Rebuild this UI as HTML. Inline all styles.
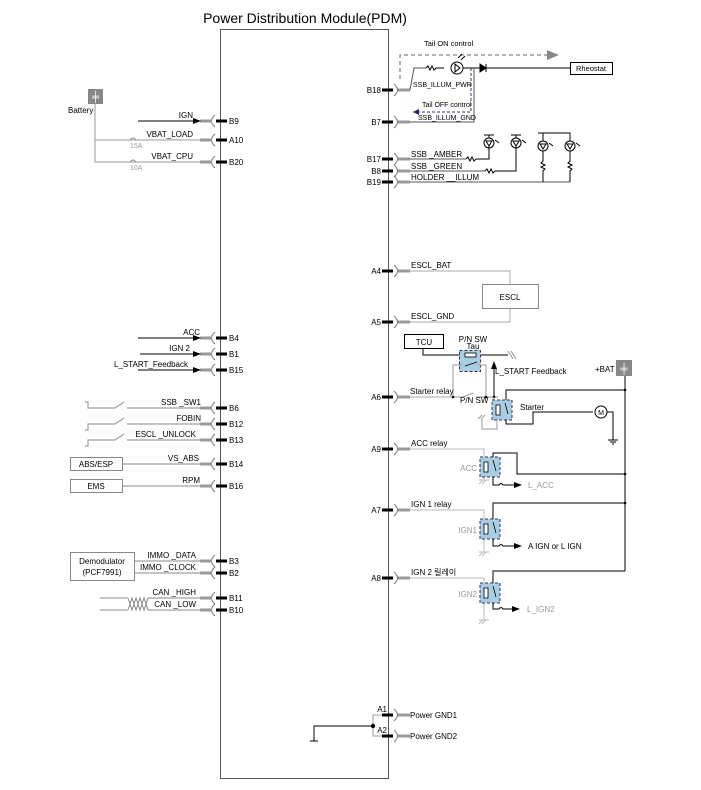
<!DOCTYPE html>
<html><head><meta charset="utf-8"><style>
body{margin:0;background:#fff;}
svg{display:block;font-family:"Liberation Sans",Arial,sans-serif;}
</style></head><body>
<svg width="701" height="790" viewBox="0 0 701 790" xmlns="http://www.w3.org/2000/svg">
<defs>
<marker id="ar" markerWidth="8" markerHeight="8" refX="7" refY="4" orient="auto" markerUnits="userSpaceOnUse"><path d="M0,1 L8,4 L0,7z" fill="#000"/></marker>
<marker id="arg" markerWidth="12" markerHeight="12" refX="11" refY="6" orient="auto" markerUnits="userSpaceOnUse"><path d="M0,1 L12,6 L0,11z" fill="#888"/></marker>
<g id="rp"><line x1="382" y1="0" x2="393" y2="0" stroke="#000" stroke-width="3"/><path d="M394,-6 q7,6 0,12" fill="none" stroke="#777" stroke-width="1"/><line x1="398" y1="0" x2="410" y2="0" stroke="#999" stroke-width="3"/></g>
<g id="lp"><line x1="216" y1="0" x2="227" y2="0" stroke="#000" stroke-width="3"/><path d="M215,-6 q-7,6 0,12" fill="none" stroke="#777" stroke-width="1"/><line x1="200" y1="0" x2="212" y2="0" stroke="#999" stroke-width="3"/></g>
<g id="relay"><rect x="0" y="0" width="20" height="20" fill="#a9cde3" stroke="#335" stroke-width="1" stroke-dasharray="3,2"/><rect x="4" y="5" width="4" height="10" fill="#fff" stroke="#000" stroke-width="0.8"/><line x1="13" y1="3" x2="16" y2="14" stroke="#000" stroke-width="0.8"/></g>
</defs>
<text x="305" y="23" font-size="14" text-anchor="middle">Power Distribution Module(PDM)</text>
<rect x="220.5" y="29.5" width="168" height="749" fill="none" stroke="#555" stroke-width="1"/>

<g font-size="8">
<use href="#lp" y="121"/><text x="229" y="124">B9</text>
<use href="#lp" y="140"/><text x="229" y="143">A10</text>
<use href="#lp" y="162"/><text x="229" y="165">B20</text>
<use href="#lp" y="338"/><text x="229" y="341">B4</text>
<use href="#lp" y="354"/><text x="229" y="357">B1</text>
<use href="#lp" y="370"/><text x="229" y="373">B15</text>
<use href="#lp" y="408"/><text x="229" y="411">B6</text>
<use href="#lp" y="424"/><text x="229" y="427">B12</text>
<use href="#lp" y="440"/><text x="229" y="443">B13</text>
<use href="#lp" y="464"/><text x="229" y="467">B14</text>
<use href="#lp" y="486"/><text x="229" y="489">B16</text>
<use href="#lp" y="561"/><text x="229" y="564">B3</text>
<use href="#lp" y="573"/><text x="229" y="576">B2</text>
<use href="#lp" y="598"/><text x="229" y="601">B11</text>
<use href="#lp" y="610"/><text x="229" y="613">B10</text>
<use href="#rp" y="90"/><text x="381" y="93" text-anchor="end">B18</text>
<use href="#rp" y="122"/><text x="381" y="125" text-anchor="end">B7</text>
<use href="#rp" y="159"/><text x="381" y="162" text-anchor="end">B17</text>
<use href="#rp" y="171"/><text x="381" y="174" text-anchor="end">B8</text>
<use href="#rp" y="182"/><text x="381" y="185" text-anchor="end">B19</text>
<use href="#rp" y="271"/><text x="381" y="274" text-anchor="end">A4</text>
<use href="#rp" y="322"/><text x="381" y="325" text-anchor="end">A5</text>
<use href="#rp" y="397"/><text x="381" y="400" text-anchor="end">A6</text>
<use href="#rp" y="449"/><text x="381" y="452" text-anchor="end">A9</text>
<use href="#rp" y="510"/><text x="381" y="513" text-anchor="end">A7</text>
<use href="#rp" y="578"/><text x="381" y="581" text-anchor="end">A8</text>
<use href="#rp" y="715"/><text x="387" y="712" text-anchor="end">A1</text>
<use href="#rp" y="736"/><text x="387" y="733" text-anchor="end">A2</text>
</g>

<g font-size="8" stroke-width="1">
<rect x="88" y="89" width="15" height="15" fill="#888"/>
<text x="95.5" y="100" font-size="10" fill="#fff" text-anchor="middle">╪</text>
<text x="68" y="113">Battery</text>
<polyline points="95,104 95,162 200,162" fill="none" stroke="#999"/>
<line x1="95" y1="140" x2="200" y2="140" stroke="#999"/>
<path d="M130,140 q3,-4 6,0 M130,162 q3,-4 6,0" fill="none" stroke="#999"/>
<text x="130" y="148" font-size="7" fill="#999">15A</text>
<text x="130" y="170" font-size="7" fill="#999">10A</text>
<line x1="138" y1="121" x2="200" y2="121" stroke="#000" marker-end="url(#ar)"/>
<text x="193" y="118" text-anchor="end">IGN</text>
<text x="193" y="137" text-anchor="end">VBAT_LOAD</text>
<text x="193" y="159" text-anchor="end">VBAT_CPU</text>

<line x1="138" y1="338" x2="200" y2="338" stroke="#000" marker-end="url(#ar)"/>
<text x="200" y="335" text-anchor="end">ACC</text>
<line x1="140" y1="354" x2="200" y2="354" stroke="#000" marker-end="url(#ar)"/>
<text x="190" y="351" text-anchor="end">IGN 2</text>
<line x1="138" y1="370" x2="200" y2="370" stroke="#000" marker-end="url(#ar)"/>
<text x="188" y="367" text-anchor="end">L_START_Feedback</text>

<g stroke="#888" fill="none">
<polyline points="85,402 88,402 88,408 115,408 124,402"/><line x1="127" y1="408" x2="200" y2="408"/>
<polyline points="85,430 88,430 88,424 115,424 124,418"/><line x1="127" y1="424" x2="200" y2="424"/>
<polyline points="85,446 88,446 88,440 115,440 124,434"/><line x1="127" y1="440" x2="200" y2="440"/>
<rect x="70.5" y="457.5" width="52" height="13"/><line x1="123" y1="464" x2="200" y2="464"/>
<rect x="70.5" y="479.5" width="52" height="13"/><line x1="123" y1="486" x2="200" y2="486"/>
<rect x="70.5" y="552.5" width="64" height="28"/>
<line x1="135" y1="561" x2="200" y2="561"/><line x1="135" y1="573" x2="200" y2="573"/>
<line x1="100" y1="598" x2="128" y2="598"/><line x1="100" y1="610" x2="128" y2="610"/>
<path d="M128,598 l4,12 l4,-12 l4,12 l4,-12 l4,12 M128,610 l4,-12 l4,12 l4,-12 l4,12 l4,-12"/>
<line x1="148" y1="598" x2="200" y2="598"/><line x1="148" y1="610" x2="200" y2="610"/>
</g>
<text x="201" y="405" text-anchor="end">SSB _SW1</text>
<text x="201" y="421" text-anchor="end">FOBIN</text>
<text x="196" y="437" text-anchor="end">ESCL _UNLOCK</text>
<text x="199" y="461" text-anchor="end">VS_ABS</text>
<text x="200" y="483" text-anchor="end">RPM</text>
<text x="96" y="467" text-anchor="middle">ABS/ESP</text>
<text x="96" y="489" text-anchor="middle">EMS</text>
<text x="102" y="564" text-anchor="middle">Demodulator</text>
<text x="102" y="575" text-anchor="middle">(PCF7991)</text>
<text x="196" y="558" text-anchor="end">IMMO _DATA</text>
<text x="196" y="570" text-anchor="end">IMMO _CLOCK</text>
<text x="196" y="595" text-anchor="end">CAN _HIGH</text>
<text x="196" y="607" text-anchor="end">CAN _LOW</text>
</g>

<g font-size="7.5" fill="none" stroke-width="1">
<polyline points="400,79 400,55 558,55" stroke="#666" stroke-dasharray="4,3" marker-end="url(#arg)"/>
<text x="424" y="46" fill="#000" stroke="none">Tail ON control</text>
<polyline points="410,90 414,68 426,68" stroke="#555"/>
<path d="M426,68 l2,-2 l2,4 l2,-4 l2,4 l2,-2 l8,0" stroke="#000"/>
<circle cx="457" cy="68" r="6" stroke="#000"/><path d="M455,64 l5,4 l-5,4z" stroke="#000"/>
<path d="M458,58 l4,-4 M461,60 l4,-4" stroke="#000"/>
<line x1="463" y1="68" x2="480" y2="68" stroke="#000"/>
<path d="M480,64 l6,4 l-6,4z M486,64 v8" stroke="#000" fill="#000"/>
<line x1="486" y1="68" x2="570" y2="68" stroke="#000"/>
<rect x="570.5" y="62.5" width="42" height="12" stroke="#000"/>
<text x="591" y="71" text-anchor="middle" fill="#000" stroke="none">Rheostat</text>
<polyline points="474,68 474,122 410,122" stroke="#555"/>
<polyline points="471,68 471,112 413,112" stroke="#336" stroke-dasharray="3,2"/>
<path d="M413,112 l6,-3 v6z" fill="#226" stroke="none"/>
<text x="413" y="87" fill="#000" stroke="none" font-size="7">SSB_ILLUM_PWR</text>
<text x="422" y="107" fill="#000" stroke="none" font-size="7">Tail OFF control</text>
<text x="418" y="120" fill="#000" stroke="none" font-size="7">SSB_ILLUM_GND</text>

<text x="411" y="157" fill="#000" stroke="none" font-size="8">SSB _AMBER</text>
<text x="411" y="169" fill="#000" stroke="none" font-size="8">SSB _GREEN</text>
<text x="411" y="180" fill="#000" stroke="none" font-size="8">HOLDER __ILLUM</text>
<line x1="410" y1="159" x2="466" y2="159" stroke="#555"/>
<path d="M466,159 l2,-2 l2,4 l2,-4 l2,4 l2,-2" stroke="#000"/><polyline points="476,159 489,159 489,145" stroke="#000"/>
<line x1="410" y1="171" x2="485" y2="171" stroke="#555"/>
<path d="M485,171 l2,-2 l2,4 l2,-4 l2,4 l2,-2" stroke="#000"/><polyline points="495,171 516,171 516,145" stroke="#000"/>
<line x1="410" y1="182" x2="570" y2="182" stroke="#555"/>
<g stroke="#000">
<circle cx="489" cy="143" r="5"/><path d="M486,141 h6 l-3,5z M484,135 h10"/><line x1="489" y1="135" x2="489" y2="138"/>
<circle cx="516" cy="143" r="5"/><path d="M513,141 h6 l-3,5z M511,135 h10"/><line x1="516" y1="135" x2="516" y2="138"/>
<circle cx="543" cy="146" r="5"/><path d="M540,144 h6 l-3,5z M538,133 h10"/>
<line x1="543" y1="133" x2="543" y2="141"/><polyline points="543,133 570,133 570,141"/>
<circle cx="570" cy="146" r="5"/><path d="M567,144 h6 l-3,5z"/>
<path d="M543,151 v10 l-2,2 l4,2 l-4,2 l4,2 l-2,2 v11 M570,151 v10 l-2,2 l4,2 l-4,2 l4,2 l-2,2 v11"/>
<path d="M495,140 l4,3 M522,140 l4,3 M549,143 l4,3 M576,143 l4,3"/>
</g>

<polyline points="410,271 510,271 510,284" stroke="#aaa"/>
<polyline points="410,322 510,322 510,309" stroke="#aaa"/>
<rect x="482.5" y="284.5" width="56" height="24" stroke="#888"/>
<text x="510" y="300" text-anchor="middle" fill="#000" stroke="none" font-size="8">ESCL</text>
<text x="411" y="268" fill="#000" stroke="none" font-size="8">ESCL_BAT</text>
<text x="411" y="319" fill="#000" stroke="none" font-size="8">ESCL_GND</text>

<rect x="404.5" y="334.5" width="39" height="14" stroke="#000"/>
<text x="424" y="345" text-anchor="middle" fill="#000" stroke="none" font-size="8">TCU</text>
<text x="473" y="342" text-anchor="middle" fill="#000" stroke="none" font-size="8">P/N SW</text>
<text x="473" y="349" text-anchor="middle" fill="#000" stroke="none" font-size="8">Tau</text>
<polyline points="423,349 423,355 508,355" stroke="#000"/>
<path d="M508,351 l5,8 M511,351 l5,8" stroke="#999"/>
<rect x="459.5" y="350.5" width="21" height="21" fill="#a9cde3" stroke="#335" stroke-dasharray="3,2"/>
<rect x="465" y="353" width="11" height="4" fill="#fff" stroke="#000" stroke-width="0.8"/>
<line x1="465" y1="366" x2="477" y2="362" stroke="#000" stroke-width="0.8"/>
<polyline points="462,365 453,365 453,397" stroke="#999"/>
<polyline points="478,365 486,365 486,397" stroke="#999"/>
<line x1="410" y1="397" x2="453" y2="397" stroke="#aaa"/>
<path d="M453,397 l10,0 l10,-4 M476,397 h22" stroke="#999"/>
<circle cx="453" cy="397" r="1.3" fill="#000"/><circle cx="486" cy="397" r="1.3" fill="#000"/><circle cx="494" cy="397" r="1.3" fill="#000"/>
<line x1="494" y1="397" x2="494" y2="362" stroke="#000" marker-end="url(#ar)"/>
<text x="495" y="374" fill="#000" stroke="none" font-size="8">L_START Feedback</text>
<text x="410" y="394" fill="#000" stroke="none" font-size="8">Starter relay</text>
<text x="460" y="403" fill="#000" stroke="none" font-size="8">P/N SW</text>
<polyline points="494,397 494,400" stroke="#999"/>
<use href="#relay" x="492" y="400"/>
<polyline points="497,420 497,429 482,429 482,419" stroke="#999"/>
<path d="M478,419 l4,-4 M481,419 l4,-4" stroke="#999"/>
<text x="520" y="410" fill="#000" stroke="none" font-size="8">Starter</text>
<polyline points="506,400 506,390 625,390" stroke="#000"/>
<polyline points="506,420 506,424 533,424 533,412 593,412" stroke="#000"/>
<circle cx="601" cy="412" r="6" stroke="#000"/>
<text x="601" y="415" text-anchor="middle" fill="#000" stroke="none" font-size="7">M</text>
<polyline points="607,412 613,412 613,440" stroke="#000"/>
<path d="M608,440 h10 M610,442 h6 M612,444 h2" stroke="#000"/>

<rect x="616" y="360" width="16" height="16" fill="#888" stroke="none"/>
<text x="624" y="372" font-size="10" fill="#fff" stroke="none" text-anchor="middle">╪</text>
<text x="595" y="372" fill="#000" stroke="none" font-size="8">+BAT</text>
<line x1="625" y1="376" x2="625" y2="571" stroke="#000"/>

<polyline points="410,449 484,449 484,480" stroke="#bbb"/>
<path d="M479,484 l4,-4 M482,484 l4,-4 M479,480 h10" stroke="#bbb"/>
<use href="#relay" x="480" y="457"/>
<text x="477" y="471" text-anchor="end" fill="#999" stroke="none" font-size="8">ACC</text>
<polyline points="493,457 493,453 517,453 517,474 625,474" stroke="#000"/>
<path d="M493,477 v8 h6 q2,-3 4,0 h5" stroke="#000"/>
<line x1="508" y1="485" x2="521" y2="485" stroke="#000" marker-end="url(#ar)"/>
<text x="528" y="488" fill="#999" stroke="none" font-size="8">L_ACC</text>
<text x="411" y="446" fill="#000" stroke="none" font-size="8">ACC relay</text>

<polyline points="410,510 484,510 484,552" stroke="#bbb"/>
<path d="M479,556 l4,-4 M482,556 l4,-4 M479,552 h10" stroke="#bbb"/>
<use href="#relay" x="480" y="519"/>
<text x="477" y="533" text-anchor="end" fill="#999" stroke="none" font-size="8">IGN1</text>
<polyline points="493,519 493,503 625,503" stroke="#000"/>
<path d="M493,539 v7 h6 q2,-3 4,0 h18" stroke="#000" marker-end="url(#ar)"/>
<text x="528" y="549" fill="#000" stroke="none" font-size="8">A IGN or L IGN</text>
<text x="411" y="507" fill="#000" stroke="none" font-size="8">IGN 1 relay</text>

<polyline points="410,578 484,578 484,620" stroke="#bbb"/>
<path d="M479,624 l4,-4 M482,624 l4,-4 M479,620 h10" stroke="#bbb"/>
<use href="#relay" x="480" y="583"/>
<text x="477" y="597" text-anchor="end" fill="#999" stroke="none" font-size="8">IGN2</text>
<polyline points="493,583 493,571 625,571" stroke="#000"/>
<path d="M493,603 v6 h6 q2,-3 4,0 h16" stroke="#000" marker-end="url(#ar)"/>
<text x="527" y="612" fill="#999" stroke="none" font-size="8">L_IGN2</text>
<text x="411" y="575" fill="#000" stroke="none" font-size="8" font-family="Liberation Sans, Noto Sans CJK KR, sans-serif">IGN 2 릴레이</text>
<circle cx="625" cy="390" r="1.3" fill="#000"/><circle cx="625" cy="474" r="1.3" fill="#000"/><circle cx="625" cy="503" r="1.3" fill="#000"/>

<polyline points="382,715 373,715 373,736 382,736" stroke="#999"/>
<polyline points="373,726 314,726 314,741" stroke="#000"/>
<path d="M310,741 h8" stroke="#000"/>
<circle cx="373" cy="726" r="2.2" fill="#000"/>
<text x="410" y="718" fill="#000" stroke="none" font-size="8">Power GND1</text>
<text x="410" y="739" fill="#000" stroke="none" font-size="8">Power GND2</text>
</g>
</svg>
</body></html>
